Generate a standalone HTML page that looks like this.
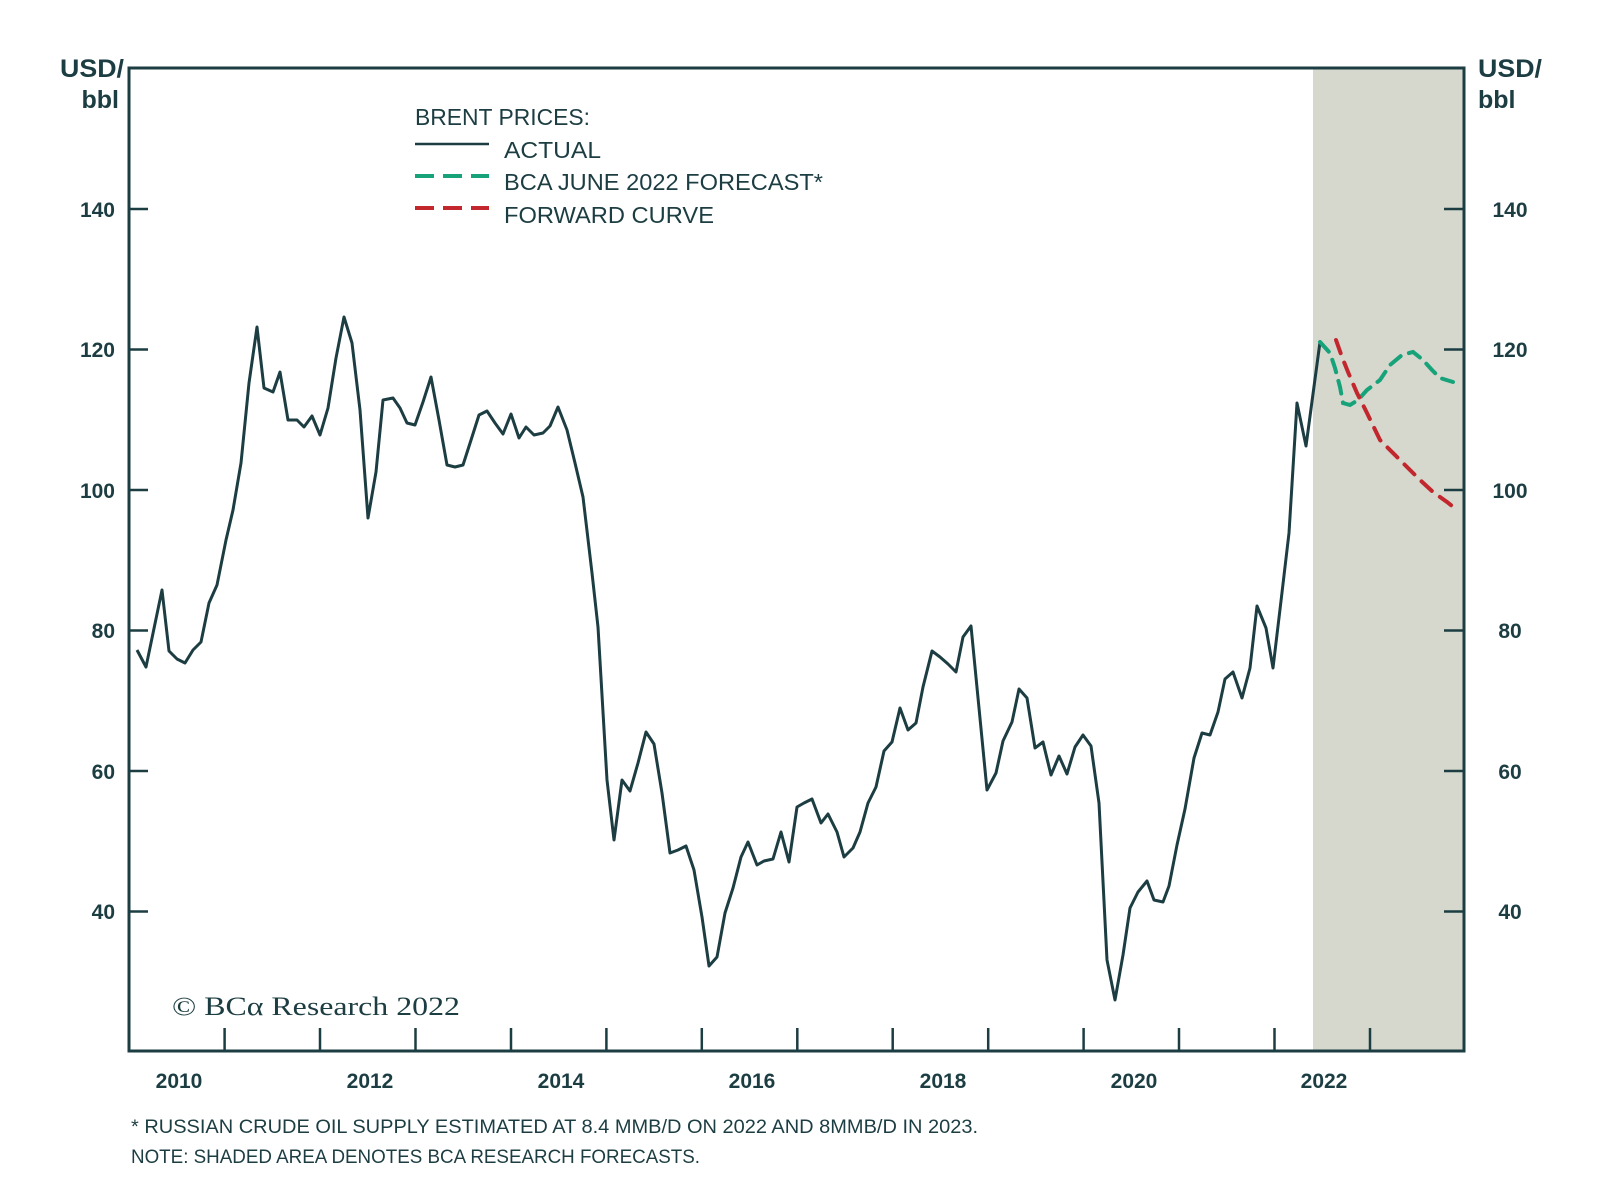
<!DOCTYPE html>
<html><head><meta charset="utf-8"><style>
html,body{margin:0;padding:0;background:#fff;}
svg{display:block;}
</style></head><body>
<svg width="1600" height="1198" viewBox="0 0 1600 1198" xmlns="http://www.w3.org/2000/svg">
<rect x="0" y="0" width="1600" height="1198" fill="#fff"/>
<rect x="1313" y="68" width="151" height="984" fill="#d6d7cd"/>
<g stroke="#1c3d42" stroke-width="2.5">
<line x1="129" y1="209" x2="148" y2="209"/>
<line x1="129" y1="349.5" x2="148" y2="349.5"/>
<line x1="129" y1="490" x2="148" y2="490"/>
<line x1="129" y1="630.5" x2="148" y2="630.5"/>
<line x1="129" y1="771" x2="148" y2="771"/>
<line x1="129" y1="911.5" x2="148" y2="911.5"/>
<line x1="1444" y1="209" x2="1464" y2="209"/>
<line x1="1444" y1="349.5" x2="1464" y2="349.5"/>
<line x1="1444" y1="490" x2="1464" y2="490"/>
<line x1="1444" y1="630.5" x2="1464" y2="630.5"/>
<line x1="1444" y1="771" x2="1464" y2="771"/>
<line x1="1444" y1="911.5" x2="1464" y2="911.5"/>
<line x1="224.6" y1="1028" x2="224.6" y2="1051"/>
<line x1="320" y1="1028" x2="320" y2="1051"/>
<line x1="415.5" y1="1028" x2="415.5" y2="1051"/>
<line x1="511" y1="1028" x2="511" y2="1051"/>
<line x1="606.4" y1="1028" x2="606.4" y2="1051"/>
<line x1="701.8" y1="1028" x2="701.8" y2="1051"/>
<line x1="797.3" y1="1028" x2="797.3" y2="1051"/>
<line x1="892.7" y1="1028" x2="892.7" y2="1051"/>
<line x1="988.2" y1="1028" x2="988.2" y2="1051"/>
<line x1="1083.6" y1="1028" x2="1083.6" y2="1051"/>
<line x1="1179" y1="1028" x2="1179" y2="1051"/>
<line x1="1274.5" y1="1028" x2="1274.5" y2="1051"/>
<line x1="1370" y1="1028" x2="1370" y2="1051"/>
</g>
<rect x="129" y="68" width="1335" height="983" fill="none" stroke="#1c3d42" stroke-width="3"/>
<polyline fill="none" stroke="#1c3d42" stroke-width="3" stroke-linejoin="round" points="137,650 146,667 162,590 169,651 177,659 185,663 193,650 201,642 209,603 217,585 226,540 233,510 241,463 249,383 257,327 264,388 273,392 280,372 288,420 297,420 304,427 312,416 320,435 328,408 336,358 344,317 352,343 360,410 368,518 376,472 383,400 393,398 400,408 407,423 415,425 423,402 431,377 439,420 447,465 455,467 463,465 472,437 479,415 487,411 495,423 503,434 511,414 519,438 526,427 534,435 543,433 550,426 558,407 567,430 575,463 583,497 592,573 598,627 607,780 614,840 622,780 630,791 638,763 646,732 654,744 662,793 670,853 678,850 686,846 694,870 702,917 709,966 717,957 725,913 733,888 741,857 748,842 757,865 764,861 773,859 781,832 789,862 797,807 804,803 812,799 821,823 828,814 837,832 844,857 853,848 860,832 868,803 876,787 884,751 892,742 900,708 908,730 916,723 923,687 932,651 940,657 948,664 956,672 963,637 971,626 979,708 987,790 996,773 1003,741 1012,722 1019,689 1027,698 1035,748 1043,742 1051,775 1059,756 1067,774 1075,747 1083,735 1091,746 1099,803 1107,960 1115,1000 1123,955 1130,908 1138,892 1147,881 1154,900 1163,902 1169,886 1177,845 1185,809 1194,758 1202,733 1210,735 1218,712 1225,679 1233,672 1242,698 1250,668 1257,606 1266,628 1273,668 1281,601 1289,533 1297,403 1306,446 1313,394 1320,342"/>
<polyline fill="none" stroke="#17a37a" stroke-width="4" stroke-dasharray="13 9" stroke-linecap="round" points="1320,342 1330,353 1335,368 1340,387 1343,403 1350,405 1358,400 1367,390 1380,380 1390,365 1402,355 1413,352 1423,360 1432,370 1440,378 1453,382"/>
<polyline fill="none" stroke="#c2272d" stroke-width="4" stroke-dasharray="14 10" stroke-linecap="round" points="1336,340 1342,357 1348,372 1357,393 1367,413 1380,440 1397,457 1407,467 1420,480 1433,492 1447,502 1457,510"/>
<g font-family="Liberation Sans, sans-serif" fill="#1c3d42">
<text x="60" y="77" font-size="25" font-weight="bold" textLength="64" lengthAdjust="spacingAndGlyphs">USD/</text>
<text x="119" y="108" font-size="25" font-weight="bold" text-anchor="end">bbl</text>
<text x="1478" y="77" font-size="25" font-weight="bold" textLength="64" lengthAdjust="spacingAndGlyphs">USD/</text>
<text x="1478" y="108" font-size="25" font-weight="bold">bbl</text>
<g font-size="21" font-weight="bold" text-anchor="end">
<text x="115" y="217">140</text><text x="115" y="357">120</text><text x="115" y="498">100</text>
<text x="115" y="638">80</text><text x="115" y="779">60</text><text x="115" y="919">40</text>
</g>
<g font-size="21" font-weight="bold" text-anchor="middle">
<text x="1510" y="217">140</text><text x="1510" y="357">120</text><text x="1510" y="498">100</text>
<text x="1510" y="638">80</text><text x="1510" y="779">60</text><text x="1510" y="919">40</text>
</g>
<g font-size="21" font-weight="bold" text-anchor="middle">
<text x="179" y="1088">2010</text><text x="370" y="1088">2012</text><text x="561" y="1088">2014</text>
<text x="752" y="1088">2016</text><text x="943" y="1088">2018</text><text x="1134" y="1088">2020</text>
<text x="1324" y="1088">2022</text>
</g>
<text x="415" y="125" font-size="23" textLength="175" lengthAdjust="spacingAndGlyphs">BRENT PRICES:</text>
<text x="504" y="158" font-size="23" textLength="97" lengthAdjust="spacingAndGlyphs">ACTUAL</text>
<text x="504" y="190" font-size="23" textLength="319" lengthAdjust="spacingAndGlyphs">BCA JUNE 2022 FORECAST*</text>
<text x="504" y="223" font-size="23" textLength="210" lengthAdjust="spacingAndGlyphs">FORWARD CURVE</text>
<text x="131" y="1133" font-size="19" textLength="847" lengthAdjust="spacingAndGlyphs">* RUSSIAN CRUDE OIL SUPPLY ESTIMATED AT 8.4 MMB/D ON 2022 AND 8MMB/D IN 2023.</text>
<text x="131" y="1163" font-size="19" textLength="569" lengthAdjust="spacingAndGlyphs">NOTE: SHADED AREA DENOTES BCA RESEARCH FORECASTS.</text>
</g>
<line x1="415" y1="144" x2="489" y2="144" stroke="#1c3d42" stroke-width="2.5"/>
<line x1="415" y1="176" x2="489" y2="176" stroke="#17a37a" stroke-width="4" stroke-dasharray="19 9"/>
<line x1="415" y1="208" x2="489" y2="208" stroke="#c2272d" stroke-width="4" stroke-dasharray="19 9"/>
<text x="172" y="1015" font-family="Liberation Serif, serif" font-size="26" fill="#1c3d42" textLength="288" lengthAdjust="spacingAndGlyphs">© BCα Research 2022</text>
</svg>
</body></html>
